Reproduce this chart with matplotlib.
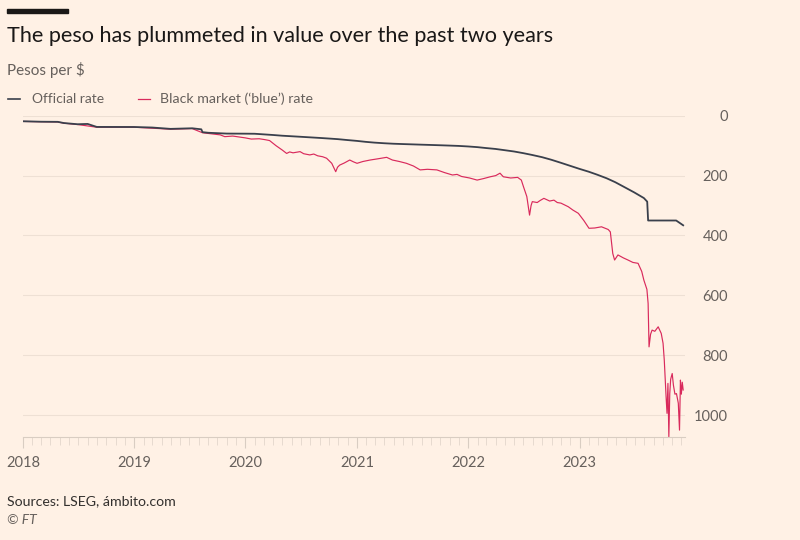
import pandas as pd
import matplotlib.pyplot as plt
import matplotlib.dates as mdates
from matplotlib.patches import Rectangle

plt.rcParams['font.family'] = ['Lato', 'DejaVu Sans']

official_dates = [
    "2018-01-02", "2018-03-01", "2018-04-25", "2018-05-15", "2018-06-29", "2018-08-01",
    "2018-08-31", "2018-12-31", "2019-03-01", "2019-04-30", "2019-07-10", "2019-08-09",
    "2019-08-13", "2019-09-01", "2019-10-31", "2019-12-31",
    "2020-01-31", "2020-02-28", "2020-03-31", "2020-04-30", "2020-05-29", "2020-06-30",
    "2020-07-31", "2020-08-31", "2020-09-30", "2020-10-30", "2020-11-30", "2020-12-31",
    "2021-01-29", "2021-02-26", "2021-03-31", "2021-04-30", "2021-05-31", "2021-06-30",
    "2021-07-30", "2021-08-31", "2021-09-30", "2021-10-29", "2021-11-30", "2021-12-31",
    "2022-01-31", "2022-02-28", "2022-03-31", "2022-04-29", "2022-05-31", "2022-06-30",
    "2022-07-29", "2022-08-31", "2022-09-30", "2022-10-31", "2022-11-30", "2022-12-30",
    "2023-01-31", "2023-02-28", "2023-03-31", "2023-04-28", "2023-05-31", "2023-06-30",
    "2023-07-31", "2023-08-11", "2023-08-14", "2023-11-14", "2023-12-07",
]
official_rate = [
    18.6, 20.1, 20.5, 24.5, 28.5, 27.5,
    37.5, 37.7, 39.5, 44.0, 42.0, 45.5,
    55.0, 57.0, 59.7, 60.0,
    60.3, 62.2, 64.4, 66.8, 68.5, 70.4,
    72.3, 74.2, 76.2, 78.3, 81.3, 84.1,
    87.3, 89.8, 92.0, 93.6, 94.7, 95.7,
    96.7, 97.7, 98.7, 99.7, 100.9, 102.7,
    105.0, 108.0, 111.0, 115.0, 119.5, 125.0,
    131.0, 138.5, 147.0, 157.0, 167.0, 177.0,
    187.0, 197.0, 209.0, 222.0, 240.0, 256.5,
    275.0, 287.0, 350.0, 350.0, 366.0,
]

blue_dates = [
    "2018-01-02", "2018-04-25", "2018-05-15", "2018-06-29", "2018-08-31", "2018-12-31",
    "2019-04-30", "2019-07-10", "2019-08-13", "2019-09-15", "2019-10-10", "2019-10-25",
    "2019-11-20", "2019-12-31", "2020-01-20", "2020-02-15", "2020-03-05", "2020-03-20",
    "2020-04-10", "2020-05-01", "2020-05-15", "2020-05-25", "2020-06-05", "2020-06-28",
    "2020-07-10", "2020-07-30", "2020-08-12", "2020-08-25", "2020-09-10", "2020-09-23",
    "2020-10-01", "2020-10-10", "2020-10-23", "2020-10-29", "2020-11-05", "2020-11-20",
    "2020-12-08", "2020-12-20", "2021-01-01", "2021-01-20", "2021-02-13", "2021-03-10",
    "2021-04-08", "2021-04-27", "2021-05-20", "2021-06-12", "2021-07-05", "2021-07-27",
    "2021-08-20", "2021-09-20", "2021-10-15", "2021-11-10", "2021-11-25", "2021-12-10",
    "2022-01-05", "2022-01-30", "2022-02-20", "2022-03-14", "2022-04-01", "2022-04-15",
    "2022-04-26", "2022-05-20", "2022-06-12", "2022-06-24", "2022-07-01", "2022-07-12",
    "2022-07-21", "2022-07-26", "2022-07-30", "2022-08-15", "2022-08-25", "2022-09-06",
    "2022-09-25", "2022-10-09", "2022-10-20", "2022-11-01", "2022-11-25", "2022-12-10",
    "2022-12-28", "2023-01-15", "2023-02-01", "2023-02-20", "2023-03-14", "2023-04-05",
    "2023-04-12", "2023-04-20", "2023-04-26", "2023-05-07", "2023-05-25", "2023-06-09",
    "2023-06-25", "2023-07-12", "2023-07-24", "2023-07-31", "2023-08-10", "2023-08-14",
    "2023-08-17", "2023-08-22", "2023-08-27", "2023-09-05", "2023-09-16", "2023-09-26",
    "2023-10-02", "2023-10-06", "2023-10-12", "2023-10-15", "2023-10-18", "2023-10-21",
    "2023-10-24", "2023-10-27", "2023-11-01", "2023-11-05", "2023-11-10", "2023-11-15",
    "2023-11-21", "2023-11-25", "2023-11-28", "2023-12-01", "2023-12-04", "2023-12-07",
]
blue_rate = [
    19.2, 20.8, 25.0, 29.5, 38.5, 38.5,
    45.0, 43.0, 57.0, 61.0, 64.0, 70.0,
    68.0, 74.0, 78.0, 77.0, 80.0, 83.0,
    100.0, 115.0, 126.0, 121.0, 124.0, 120.0,
    127.0, 131.0, 128.0, 134.0, 137.0, 142.0,
    150.0, 159.0, 187.0, 172.0, 165.0, 158.0,
    148.0, 154.0, 159.0, 153.0, 148.0, 144.0,
    139.0, 148.0, 153.0, 159.0, 168.0, 181.0,
    179.0, 181.0, 190.0, 198.0, 196.0, 203.0,
    208.0, 215.0, 210.0, 204.0, 200.0, 192.0,
    204.0, 208.0, 206.0, 215.0, 237.0, 270.0,
    332.0, 300.0, 287.0, 290.0, 283.0, 276.0,
    285.0, 282.0, 290.0, 292.0, 304.0, 315.0,
    326.0, 350.0, 376.0, 375.0, 371.0, 380.0,
    388.0, 460.0, 482.0, 465.0, 475.0, 482.0,
    490.0, 493.0, 520.0, 549.0, 580.0, 627.0,
    772.0, 730.0, 716.0, 720.0, 705.0, 727.0,
    760.0, 816.0, 940.0, 994.0, 894.0, 1072.0,
    928.0, 880.0, 861.0, 900.0, 930.0, 928.0,
    960.0, 1050.0, 883.0, 930.0, 890.0, 916.0,
]

y_ticks = [0, 200, 400, 600, 800, 1000]

bg = '#fff1e5'
text_grey = '#66605c'
official_color = '#3a404c'
blue_color = '#d92a5c'

fig = plt.figure(figsize=(8, 5.4), dpi=100, facecolor=bg)
ax = fig.add_axes([23 / 800, 1 - 437 / 540, 662 / 800, (437 - 115.7) / 540])
ax.set_facecolor(bg)

od = pd.to_datetime(official_dates)
bd = pd.to_datetime(blue_dates)
ax.plot(bd, blue_rate, color=blue_color, lw=0.85, zorder=2)
ax.plot(od, official_rate, color=official_color, lw=1.3, zorder=3)

ax.set_ylim(1073, 0)
ax.set_xlim(pd.Timestamp("2018-01-01"), pd.Timestamp("2023-12-13"))

for s in ['top', 'left', 'right']:
    ax.spines[s].set_visible(False)
ax.spines['bottom'].set_color('#d9cdc2')
ax.spines['bottom'].set_linewidth(0.8)

ax.yaxis.tick_right()
ax.set_yticks(y_ticks)
ax.set_yticklabels([str(v) for v in y_ticks])
ax.tick_params(axis='y', length=0, pad=31, labelsize=10.5, labelcolor=text_grey)
for lab in ax.get_yticklabels():
    lab.set_ha('right')
ax.grid(axis='y', color='#eee0d4', lw=0.8)
ax.set_axisbelow(True)

ax.xaxis.set_major_locator(mdates.YearLocator())
ax.xaxis.set_major_formatter(mdates.DateFormatter('%Y'))
ax.xaxis.set_minor_locator(mdates.MonthLocator())
ax.tick_params(axis='x', which='major', length=8, color='#d9cdc2', width=0.8,
               pad=6, labelsize=10.5, labelcolor=text_grey)
ax.tick_params(axis='x', which='minor', length=6, color='#e3d6cb', width=0.6)

fig.patches.append(Rectangle((7 / 800, 1 - 13 / 540), 61 / 800, 4 / 540,
                             transform=fig.transFigure, color='#1a1817'))
fig.text(7 / 800, 1 - 36 / 540, "The peso has plummeted in value over the past two years",
         fontsize=15.6, color='#1a1817', va='center')
fig.text(7 / 800, 1 - 70 / 540, "Pesos per $", fontsize=11, color=text_grey, va='center')

fig.lines.append(plt.Line2D([8 / 800, 20 / 800], [1 - 99 / 540] * 2, transform=fig.transFigure,
                            color=official_color, lw=1.2))
fig.text(32 / 800, 1 - 99 / 540, "Official rate", fontsize=10, color=text_grey, va='center')
fig.lines.append(plt.Line2D([138 / 800, 150 / 800], [1 - 99 / 540] * 2, transform=fig.transFigure,
                            color=blue_color, lw=0.9))
fig.text(160 / 800, 1 - 99 / 540, "Black market (\u2018blue\u2019) rate", fontsize=10.2,
         color=text_grey, va='center')

fig.text(7 / 800, 1 - 501 / 540, "Sources: LSEG, \u00e1mbito.com", fontsize=10.2,
         color='#33302e', va='center')
fig.text(7 / 800, 1 - 520 / 540, "\u00a9 FT", fontsize=10, color=text_grey,
         style='italic', va='center')

fig.savefig('out.png', dpi=100, facecolor=bg)
